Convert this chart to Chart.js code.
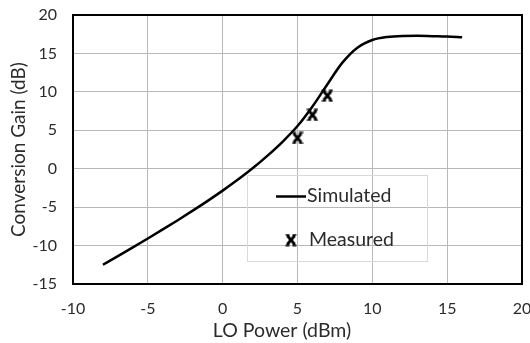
<!DOCTYPE html>
<html>
<head>
<meta charset="utf-8">
<script src="https://cdn.jsdelivr.net/npm/chart.js@4.4.0/dist/chart.umd.min.js"></script>
<style>
  html, body { margin: 0; padding: 0; background: #fff; }
  #wrap { width: 530px; height: 343px; }
</style>
</head>
<body>
<div id="wrap"><canvas id="gainChart" width="530" height="343"></canvas></div>
<script>
// simulated conversion gain vs LO power
const simPower = [-8, -7, -6, -5, -4, -3, -2, -1, 0, 1, 2, 3, 4, 5, 6, 7, 8, 9, 10, 11, 12, 13, 14, 15, 16];
const simGain = [-12.5, -11.38, -10.24, -9.08, -7.9, -6.7, -5.46, -4.18, -2.85, -1.45, 0.05, 1.7, 3.5, 5.55, 8.1, 11.0, 13.8, 15.75, 16.75, 17.15, 17.28, 17.3, 17.25, 17.2, 17.1];

// measured points
const measPower = [5, 6, 7];
const measGain = [4.0, 7.0, 9.5];

const xTicks = [-10, -5, 0, 5, 10, 15, 20];
const yTicks = [-15, -10, -5, 0, 5, 10, 15, 20];

const textColor = '#2b2b2b';
const gridColor = '#b8b8b8';
const fontFamily = 'Lato, "Open Sans", sans-serif';

// excel style "x" marker
function makeMarker() {
    const c = document.createElement('canvas');
    c.width = 12;
    c.height = 13;
    const g = c.getContext('2d');
    g.strokeStyle = '#000';
    g.lineWidth = 2.8;
    g.beginPath();
    g.moveTo(2.2, 2); g.lineTo(9.8, 11);
    g.moveTo(9.8, 2); g.lineTo(2.2, 11);
    g.stroke();
    // little serifs on the arm ends
    g.lineWidth = 1.6;
    g.beginPath();
    g.moveTo(0.5, 1.3); g.lineTo(4.5, 1.3);
    g.moveTo(7.5, 1.3); g.lineTo(11.5, 1.3);
    g.moveTo(0.5, 11.7); g.lineTo(4.5, 11.7);
    g.moveTo(7.5, 11.7); g.lineTo(11.5, 11.7);
    g.stroke();
    return c;
}
const marker = makeMarker();

const framePlugin = {
    id: 'framePlugin',
    afterDraw(chart) {
        const { ctx, chartArea: { left, top, right, bottom } } = chart;
        ctx.save();
        // plot frame
        ctx.strokeStyle = '#000';
        ctx.lineWidth = 2;
        ctx.strokeRect(left, top, right - left, bottom - top);

        // x axis title
        ctx.fillStyle = textColor;
        ctx.font = '19.5px ' + fontFamily;
        ctx.textAlign = 'center';
        ctx.textBaseline = 'middle';
        ctx.fillText('LO Power (dBm)', 282, 331);

        // legend
        ctx.strokeStyle = '#d9d9d9';
        ctx.lineWidth = 1;
        ctx.strokeRect(247.5, 175.5, 180, 86);
        ctx.strokeStyle = '#000';
        ctx.lineWidth = 2.5;
        ctx.beginPath();
        ctx.moveTo(276, 196.5);
        ctx.lineTo(306, 196.5);
        ctx.stroke();
        ctx.drawImage(marker, 291 - 6, 240 - 6.5);
        ctx.textAlign = 'left';
        ctx.fillText('Simulated', 307, 196);
        ctx.fillText('Measured', 309, 240);
        ctx.restore();
    }
};

const ctx = document.getElementById('gainChart').getContext('2d');

const gainChart = new Chart(ctx, {
    type: 'scatter',
    plugins: [framePlugin],
    data: {
        datasets: [
            {
                label: 'Simulated',
                data: simPower.map((x, i) => ({ x: x, y: simGain[i] })),
                showLine: true,
                borderColor: '#000',
                borderWidth: 2.5,
                pointRadius: 0,
                cubicInterpolationMode: 'monotone'
            },
            {
                label: 'Measured',
                data: measPower.map((x, i) => ({ x: x, y: measGain[i] })),
                showLine: false,
                pointStyle: marker,
                pointRadius: 6
            }
        ]
    },
    options: {
        responsive: false,
        animation: false,
        layout: {
            padding: { left: 0, right: 8, top: 15, bottom: 0 }
        },
        plugins: {
            legend: { display: false },
            tooltip: { enabled: false }
        },
        scales: {
            x: {
                type: 'linear',
                min: -10,
                max: 20,
                afterBuildTicks: (scale) => { scale.ticks = xTicks.map(v => ({ value: v })); },
                afterFit: (scale) => {
                    scale.height = 59;
                    scale.paddingLeft = 0;
                    scale.paddingRight = 0;
                },
                grid: { color: gridColor, lineWidth: 1, drawTicks: false },
                border: { display: true, color: '#000', width: 2 },
                ticks: {
                    color: textColor,
                    padding: 15,
                    font: { family: fontFamily, size: 16 }
                }
            },
            y: {
                type: 'linear',
                min: -15,
                max: 20,
                afterBuildTicks: (scale) => { scale.ticks = yTicks.map(v => ({ value: v })); },
                afterFit: (scale) => {
                    scale.width = 73;
                    scale.paddingTop = 0;
                    scale.paddingBottom = 0;
                },
                grid: { color: gridColor, lineWidth: 1, drawTicks: false },
                border: { display: true, color: '#000', width: 2 },
                ticks: {
                    color: textColor,
                    padding: 16,
                    font: { family: fontFamily, size: 16 }
                },
                title: {
                    display: true,
                    text: 'Conversion Gain (dB)',
                    color: textColor,
                    padding: { top: 7, bottom: 0 },
                    font: { family: fontFamily, size: 19 }
                }
            }
        }
    }
});
</script>
</body>
</html>
